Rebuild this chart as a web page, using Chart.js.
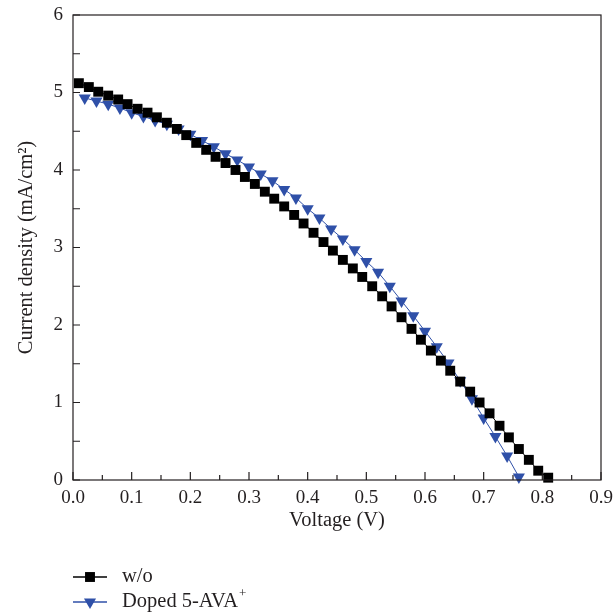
<!DOCTYPE html>
<html>
<head>
<meta charset="utf-8">
<script src="https://cdn.jsdelivr.net/npm/chart.js@4.4.0/dist/chart.umd.min.js"></script>
<style>
  html, body { margin: 0; padding: 0; background: #fff; }
  canvas { display: block; }
</style>
</head>
<body>
<canvas id="jv" width="613" height="614"></canvas>
<script>
// J-V curves: reference device (w/o) and 5-AVA+ doped device
const voltageWo = [
  0.01, 0.027, 0.043, 0.06, 0.077, 0.093, 0.11, 0.127, 0.143, 0.16,
  0.177, 0.193, 0.21, 0.227, 0.243, 0.26, 0.277, 0.293, 0.31, 0.327,
  0.343, 0.36, 0.377, 0.393, 0.41, 0.427, 0.443, 0.46, 0.477, 0.493,
  0.51, 0.527, 0.543, 0.56, 0.577, 0.593, 0.61, 0.627, 0.643, 0.66,
  0.677, 0.693, 0.71, 0.727, 0.743, 0.76, 0.777, 0.793, 0.81
]
const currentWo = [
  5.12, 5.07, 5.01, 4.96, 4.91, 4.85, 4.79, 4.74, 4.68, 4.61,
  4.53, 4.45, 4.35, 4.26, 4.17, 4.09, 4.00, 3.91, 3.82, 3.72,
  3.63, 3.53, 3.42, 3.31, 3.19, 3.07, 2.96, 2.84, 2.73, 2.62,
  2.50, 2.37, 2.24, 2.10, 1.95, 1.81, 1.67, 1.54, 1.41, 1.27,
  1.14, 1.00, 0.86, 0.70, 0.55, 0.40, 0.26, 0.12, 0.03
]
const voltageDoped = [
  0.02, 0.04, 0.06, 0.08, 0.10, 0.12, 0.14, 0.16, 0.18, 0.20,
  0.22, 0.24, 0.26, 0.28, 0.30, 0.32, 0.34, 0.36, 0.38, 0.40,
  0.42, 0.44, 0.46, 0.48, 0.50, 0.52, 0.54, 0.56, 0.58, 0.60,
  0.62, 0.64, 0.66, 0.68, 0.70, 0.72, 0.74, 0.76
]
const currentDoped = [
  4.93, 4.89, 4.85, 4.80, 4.74, 4.69, 4.64, 4.59, 4.53, 4.46,
  4.38, 4.30, 4.21, 4.13, 4.04, 3.95, 3.86, 3.75, 3.64, 3.50,
  3.38, 3.24, 3.11, 2.97, 2.82, 2.68, 2.50, 2.31, 2.12, 1.92,
  1.72, 1.51, 1.28, 1.05, 0.80, 0.56, 0.31, 0.04
]
const xTicks = [0, 0.1, 0.2, 0.3, 0.4, 0.5, 0.6, 0.7, 0.8, 0.9]
const yTicks = [0, 1, 2, 3, 4, 5, 6]
const seriesNames = ['w/o', 'Doped 5-AVA']

const INK = '#231f20'
const BLUE = '#2f50a8'
const SERIF = '"Liberation Serif", "DejaVu Serif", serif'

const toPoints = (xs, ys) => xs.map((v, i) => ({ x: v, y: ys[i] }))

// box around the plot with inward ticks, major + minor
const frameTicks = {
  id: 'frameTicks',
  afterDatasetsDraw(chart) {
    const { ctx, chartArea: a, scales: { x, y } } = chart
    ctx.save()
    ctx.strokeStyle = INK
    ctx.lineWidth = 1.2
    ctx.strokeRect(a.left, a.top, a.right - a.left, a.bottom - a.top)
    ctx.beginPath()
    xTicks.forEach((v, i) => {
      const px = x.getPixelForValue(v)
      ctx.moveTo(px, a.bottom)
      ctx.lineTo(px, a.bottom - 8)
      if (i < xTicks.length - 1) {
        const mid = x.getPixelForValue((v + xTicks[i + 1]) / 2)
        ctx.moveTo(mid, a.bottom)
        ctx.lineTo(mid, a.bottom - 5)
      }
    })
    yTicks.forEach((v, i) => {
      const py = y.getPixelForValue(v)
      ctx.moveTo(a.left, py)
      ctx.lineTo(a.left + 7, py)
      if (i < yTicks.length - 1) {
        const mid = y.getPixelForValue((v + yTicks[i + 1]) / 2)
        ctx.moveTo(a.left, mid)
        ctx.lineTo(a.left + 7, mid)
      }
    })
    ctx.stroke()
    ctx.restore()
  },
}

// legend under the x axis: line + marker, then label
const jvLegend = {
  id: 'jvLegend',
  afterDraw(chart) {
    const { ctx } = chart
    const rows = [577, 602]
    ctx.save()
    chart.data.datasets.forEach((ds, i) => {
      const yy = rows[i]
      ctx.strokeStyle = ds.borderColor
      ctx.lineWidth = 1.5
      ctx.beginPath()
      ctx.moveTo(73, yy)
      ctx.lineTo(107, yy)
      ctx.stroke()
      ctx.fillStyle = ds.pointBackgroundColor
      ctx.strokeStyle = ds.pointBackgroundColor
      Chart.helpers.drawPoint(ctx, {
        pointStyle: ds.pointStyle,
        radius: ds.pointRadius,
        rotation: ds.pointRotation || 0,
        borderWidth: 0,
      }, 90, yy)
      ctx.fillStyle = INK
      ctx.font = '20.5px ' + SERIF
      ctx.textBaseline = 'middle'
      ctx.fillText(ds.label, 122, yy)
      if (i === 1) {
        const w = ctx.measureText(ds.label).width
        ctx.font = '13px ' + SERIF
        ctx.fillText('+', 122 + w + 1, yy - 8)
      }
    })
    ctx.restore()
  },
}

new Chart(document.getElementById('jv'), {
  type: 'scatter',
  data: {
    datasets: [
      {
        label: seriesNames[0],
        data: toPoints(voltageWo, currentWo),
        showLine: true,
        borderColor: '#000',
        borderWidth: 1,
        pointStyle: 'rect',
        pointRadius: 7,
        pointBorderWidth: 0,
        pointBackgroundColor: '#000',
        clip: false,
      },
      {
        label: seriesNames[1],
        data: toPoints(voltageDoped, currentDoped),
        showLine: true,
        borderColor: BLUE,
        borderWidth: 1,
        pointStyle: 'triangle',
        pointRotation: 180,
        pointRadius: 7,
        pointBorderWidth: 0,
        pointBackgroundColor: BLUE,
        clip: false,
      },
    ],
  },
  options: {
    responsive: false,
    animation: false,
    devicePixelRatio: 1,
    layout: { padding: { top: 15, right: 12, bottom: 81, left: 0 } },
    plugins: {
      legend: { display: false },
      tooltip: { enabled: false },
    },
    scales: {
      x: {
        type: 'linear',
        min: 0,
        max: 0.9,
        afterBuildTicks: (s) => { s.ticks = xTicks.map((v) => ({ value: v })) },
        afterFit: (s) => {
          s.height = 53
          s.paddingLeft = 0
          s.paddingRight = 0
        },
        grid: { display: false, drawTicks: false },
        border: { display: false },
        ticks: {
          color: INK,
          padding: 7,
          maxRotation: 0,
          autoSkip: false,
          font: { family: SERIF, size: 19 },
          callback: (v) => Number(v).toFixed(1),
        },
        title: {
          display: true,
          text: 'Voltage (V)',
          color: INK,
          padding: 0,
          font: { family: SERIF, size: 20.5 },
        },
      },
      y: {
        type: 'linear',
        min: 0,
        max: 6,
        afterBuildTicks: (s) => { s.ticks = yTicks.map((v) => ({ value: v })) },
        afterFit: (s) => {
          s.width = 73
          s.paddingTop = 0
          s.paddingBottom = 0
        },
        grid: { display: false, drawTicks: false },
        border: { display: false },
        ticks: {
          color: INK,
          padding: 10,
          font: { family: SERIF, size: 19 },
        },
        title: {
          display: true,
          text: 'Current density (mA/cm²)',
          color: INK,
          padding: 14,
          font: { family: SERIF, size: 20.5 },
        },
      },
    },
  },
  plugins: [frameTicks, jvLegend],
})
</script>
</body>
</html>
